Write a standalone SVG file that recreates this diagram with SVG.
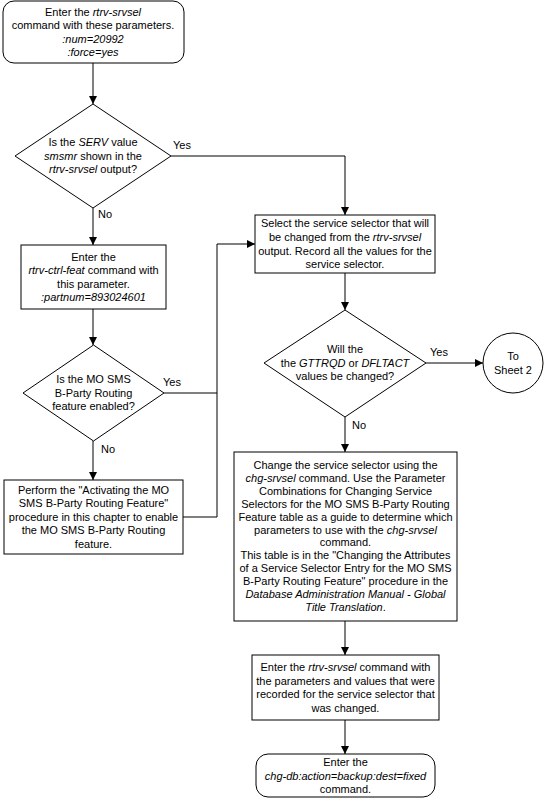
<svg xmlns="http://www.w3.org/2000/svg" width="544" height="800" viewBox="0 0 544 800">
<style>
.s{fill:#fff;stroke:#000;stroke-width:1}
.t{font-family:"Liberation Sans",Arial,sans-serif;font-size:11px;fill:#000;text-anchor:middle}
.l{font-family:"Liberation Sans",Arial,sans-serif;font-size:11px;fill:#000}
.c{fill:none;stroke:#000;stroke-width:1}
</style>
<defs>
<marker id="a" markerWidth="8" markerHeight="8" refX="8" refY="4" orient="auto" markerUnits="userSpaceOnUse">
<path d="M0,0 L8,4 L0,8 Z" fill="#000"/>
</marker>
</defs>
<rect width="544" height="800" fill="#fff"/>
<g id="connectors">
<path class="c" d="M93,63 V104" marker-end="url(#a)"/>
<path class="c" d="M171,156 H345 V215" marker-end="url(#a)"/>
<path class="c" d="M93,208 V245" marker-end="url(#a)"/>
<path class="c" d="M93,309 V345" marker-end="url(#a)"/>
<path class="c" d="M164,393 H217"/>
<path class="c" d="M93,441 V480" marker-end="url(#a)"/>
<path class="c" d="M183,517 H217 V244 H255" marker-end="url(#a)"/>
<path class="c" d="M345,273 V310" marker-end="url(#a)"/>
<path class="c" d="M426,363 H483" marker-end="url(#a)"/>
<path class="c" d="M345,417 V452" marker-end="url(#a)"/>
<path class="c" d="M345,621 V655" marker-end="url(#a)"/>
<path class="c" d="M345,720 V754" marker-end="url(#a)"/>
<text class="l" x="173" y="149">Yes</text>
<text class="l" x="98" y="218">No</text>
<text class="l" x="163" y="386">Yes</text>
<text class="l" x="101" y="453">No</text>
<text class="l" x="430" y="356">Yes</text>
<text class="l" x="352" y="429">No</text>
</g>
<g id="start">
<rect class="s" x="3" y="1" width="181" height="62" rx="11"/>
<text class="t" x="93" y="16">Enter the <tspan font-style="italic">rtrv-srvsel</tspan></text>
<text class="t" x="93" y="29">command with these parameters.</text>
<text class="t" x="93" y="43" font-style="italic">:num=20992</text>
<text class="t" x="93" y="56" font-style="italic">:force=yes</text>
</g>
<g id="d1">
<path class="s" d="M93,104 L171,156 L93,208 L15,156 Z"/>
<text class="t" x="93" y="146">Is the <tspan font-style="italic">SERV</tspan> value</text>
<text class="t" x="93" y="160"><tspan font-style="italic">smsmr</tspan> shown in the</text>
<text class="t" x="93" y="173"><tspan font-style="italic">rtrv-srvsel</tspan> output?</text>
</g>
<g id="box2">
<rect class="s" x="21" y="245" width="145" height="64"/>
<text class="t" x="93.5" y="261">Enter the</text>
<text class="t" x="93.5" y="274"><tspan font-style="italic">rtrv-ctrl-feat</tspan> command with</text>
<text class="t" x="93.5" y="288">this parameter.</text>
<text class="t" x="93.5" y="301" font-style="italic">:partnum=893024601</text>
</g>
<g id="d2">
<path class="s" d="M93.5,345 L164,393 L93.5,441 L23,393 Z"/>
<text class="t" x="93.5" y="383">Is the MO SMS</text>
<text class="t" x="93.5" y="397">B-Party Routing</text>
<text class="t" x="93.5" y="410">feature enabled?</text>
</g>
<g id="box4">
<rect class="s" x="4" y="480" width="179" height="74"/>
<text class="t" x="93.5" y="494">Perform the "Activating the MO</text>
<text class="t" x="93.5" y="507">SMS B-Party Routing Feature"</text>
<text class="t" x="93.5" y="521">procedure in this chapter to enable</text>
<text class="t" x="93.5" y="534">the MO SMS B-Party Routing</text>
<text class="t" x="93.5" y="548">feature.</text>
</g>
<g id="box3">
<rect class="s" x="255" y="215" width="180" height="58"/>
<text class="t" x="345" y="227">Select the service selector that will</text>
<text class="t" x="345" y="241">be changed from the <tspan font-style="italic">rtrv-srvsel</tspan></text>
<text class="t" x="345" y="255">output. Record all the values for the</text>
<text class="t" x="345" y="268">service selector.</text>
</g>
<g id="d3">
<path class="s" d="M345,310 L426,363 L345,417 L264,363 Z"/>
<text class="t" x="345" y="353">Will the</text>
<text class="t" x="345" y="367">the <tspan font-style="italic">GTTRQD</tspan> or <tspan font-style="italic">DFLTACT</tspan></text>
<text class="t" x="345" y="380">values be changed?</text>
</g>
<g id="sheet2">
<circle class="s" cx="513" cy="363" r="30"/>
<text class="t" x="513" y="360">To</text>
<text class="t" x="513" y="374">Sheet 2</text>
</g>
<g id="box5">
<rect class="s" x="234" y="452" width="223" height="169"/>
<text class="t" x="345.5" y="469">Change the service selector using the</text>
<text class="t" x="345.5" y="482"><tspan font-style="italic">chg-srvsel</tspan> command. Use the Parameter</text>
<text class="t" x="345.5" y="495">Combinations for Changing Service</text>
<text class="t" x="345.5" y="508">Selectors for the MO SMS B-Party Routing</text>
<text class="t" x="345.5" y="521">Feature table as a guide to determine which</text>
<text class="t" x="345.5" y="534">parameters to use with the <tspan font-style="italic">chg-srvsel</tspan></text>
<text class="t" x="345.5" y="546">command.</text>
<text class="t" x="345.5" y="559">This table is in the "Changing the Attributes</text>
<text class="t" x="345.5" y="572">of a Service Selector Entry for the MO SMS</text>
<text class="t" x="345.5" y="585">B-Party Routing Feature" procedure in the</text>
<text class="t" x="345.5" y="598"><tspan font-style="italic">Database Administration Manual - Global</tspan></text>
<text class="t" x="345.5" y="611" font-style="italic">Title Translation<tspan font-style="normal">.</tspan></text>
</g>
<g id="box6">
<rect class="s" x="252" y="655" width="187" height="65"/>
<text class="t" x="345.5" y="671">Enter the <tspan font-style="italic">rtrv-srvsel</tspan> command with</text>
<text class="t" x="345.5" y="685">the parameters and values that were</text>
<text class="t" x="345.5" y="698">recorded for the service selector that</text>
<text class="t" x="345.5" y="712">was changed.</text>
</g>
<g id="end">
<rect class="s" x="256" y="754" width="179" height="43" rx="12"/>
<text class="t" x="345.5" y="766">Enter the</text>
<text class="t" x="345.5" y="780" font-style="italic">chg-db:action=backup:dest=fixed</text>
<text class="t" x="345.5" y="793">command.</text>
</g>
</svg>
